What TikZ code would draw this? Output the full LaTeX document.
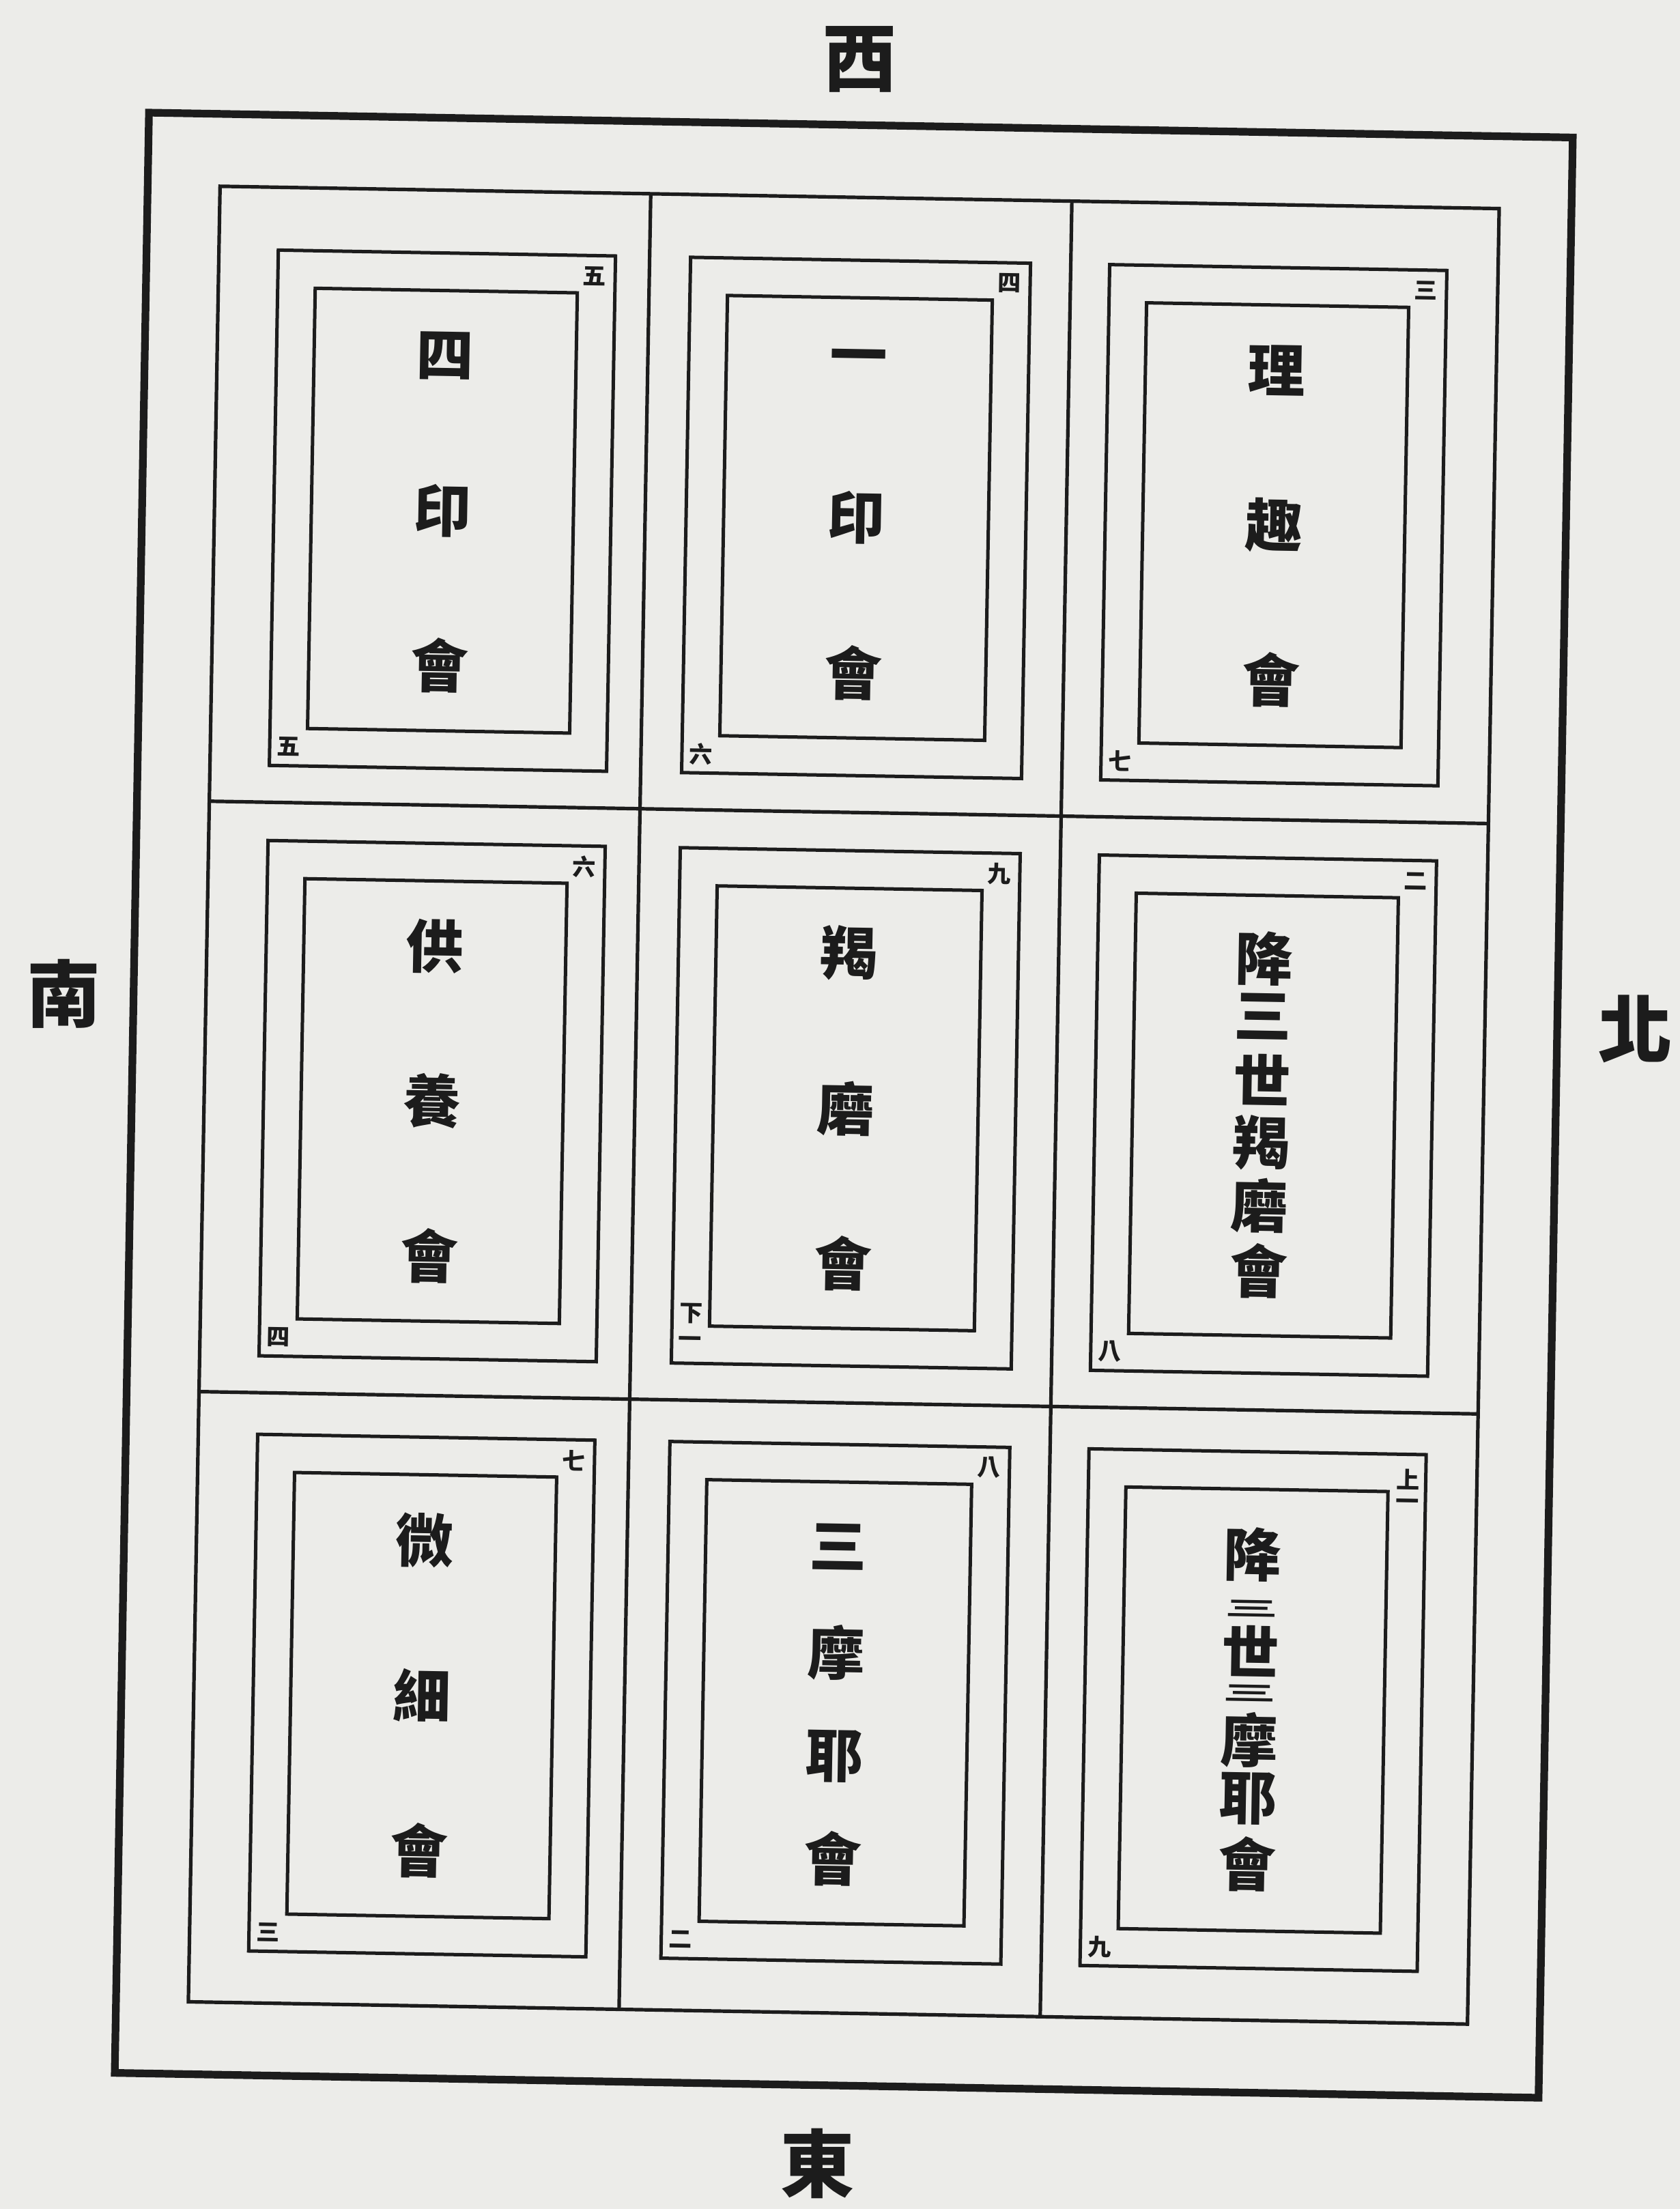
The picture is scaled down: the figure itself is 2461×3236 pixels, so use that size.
\documentclass[tikz,border=0pt]{standalone}
\usepackage{fontspec}
\newfontfamily\cjk{Noto Sans CJK TC}
\definecolor{paper}{RGB}{236,236,233}
\definecolor{ink}{RGB}{28,28,28}
\tikzset{
  outerline/.style={draw=ink, line width=2.8pt, line join=miter},
  gridline/.style={draw=ink, line width=1.3pt},
  frameline/.style={draw=ink, line width=1.25pt},
  big/.style={inner sep=0pt, text=ink, font=\cjk\bfseries\fontsize{21}{21}\selectfont},
  flat/.style={inner sep=0pt, text=ink, xscale=2.6, font=\cjk\bfseries\fontsize{7.5}{7.5}\selectfont},
  small/.style={inner sep=0pt, text=ink, font=\cjk\bfseries\fontsize{8.5}{8.5}\selectfont},
  compass/.style={inner sep=0pt, text=ink, font=\cjk\bfseries\fontsize{27}{27}\selectfont}
}
\newcommand{\cellbox}[4]{%
  \draw[frameline] (#1,#3) rectangle (#2,#4);
  \draw[frameline] ({#1+55},{#3+55}) rectangle ({#2-55},{#4-55});
}
\begin{document}
\begin{tikzpicture}[x=0.25pt,y=-0.25pt]
\path[fill=paper, use as bounding box] (0,0) rectangle (2461,3236);
% compass
\node[compass] (west)  at (1259,87)   {西};
\node[compass] (east)  at (1197,3169) {東};
\node[compass] (south) at (93,1456)   {南};
\node[compass] (north) at (2395,1507) {北};
\begin{scope}[shift={(1236,1619)}, rotate=-1, transform shape]
  \draw[outerline] (-1043,-1436) rectangle (1043,1436);
  \draw[gridline] (-937,-1330) rectangle (937,1330);
  \draw[gridline] (-306,-1330) -- (-306,1330);
  \draw[gridline] (311,-1330) -- (311,1330);
  \draw[gridline] (-937,-429) -- (937,-429);
  \draw[gridline] (-937,436) -- (937,436);
  % cells: columns [-850,-356] [-246,252] [368,862]; rows [-1238,-483] [-373,382] [497,1254]
  \cellbox{-850}{-356}{-1238}{-483}
  \cellbox{-246}{252}{-1238}{-483}
  \cellbox{368}{862}{-1238}{-483}
  \cellbox{-850}{-356}{-373}{382}
  \cellbox{-246}{252}{-373}{382}
  \cellbox{368}{862}{-373}{382}
  \cellbox{-850}{-356}{497}{1254}
  \cellbox{-246}{252}{497}{1254}
  \cellbox{368}{862}{497}{1254}
  % corner numbers
  \node[small] (n11a) at (-386,-1208) {五};
  \node[small] (n11b) at (-822,-511)  {五};
  \node[small] (n12a) at (222,-1208)  {四};
  \node[small] (n12b) at (-218,-511)  {六};
  \node[small] (n13a) at (832,-1208)  {三};
  \node[small] (n13b) at (396,-511)   {七};
  \node[small] (n21a) at (-386,-343)  {六};
  \node[small] (n21b) at (-822,354)   {四};
  \node[small] (n22a) at (222,-343)   {九};
  \node[small] (n22b) at (-218,309)   {下};
  \node[small] (n22c) at (-219,351)   {一};
  \node[small] (n23a) at (832,-343)   {二};
  \node[small] (n23b) at (396,354)    {八};
  \node[small] (n31a) at (-386,527)   {七};
  \node[small] (n31b) at (-822,1226)  {三};
  \node[small] (n32a) at (222,527)    {八};
  \node[small] (n32b) at (-218,1226)  {二};
  \node[small] (n33a) at (836,534)    {上};
  \node[small] (n33c) at (836,570)    {一};
  \node[small] (n33b) at (396,1226)   {九};
  % top row
  \node[big] (t11a) at (-603,-1087.5) {四};
  \node[big] (t11b) at (-603,-860.5)  {印};
  \node[big] (t11c) at (-603,-633.5)  {會};
  \node[big] (t12a) at (3,-1087.5) {一};
  \node[big] (t12b) at (3,-860.5)  {印};
  \node[big] (t12c) at (3,-633.5)  {會};
  \node[big] (t13a) at (615,-1087.5) {理};
  \node[big] (t13b) at (615,-860.5)  {趣};
  \node[big] (t13c) at (615,-633.5)  {會};
  % middle row
  \node[big] (t21a) at (-603,-222.5) {供};
  \node[big] (t21b) at (-603,4.5)    {養};
  \node[big] (t21c) at (-603,231.5)  {會};
  \node[big] (t22a) at (3,-222.5) {羯};
  \node[big] (t22b) at (3,4.5)    {磨};
  \node[big] (t22c) at (3,231.5)  {會};
  \node[big] (t23a) at (612,-225.5) {降};
  \node[big] (t23b) at (612,-140.5) {三};
  \node[big] (t23c) at (612,-47.5)  {世};
  \node[big] (t23d) at (612,44.5)   {羯};
  \node[big] (t23e) at (612,136.5)  {磨};
  \node[big] (t23f) at (612,232.5)  {會};
  % bottom row
  \node[big] (t31a) at (-603,648.5)  {微};
  \node[big] (t31b) at (-603,875.5)  {細};
  \node[big] (t31c) at (-603,1102.5) {會};
  \node[big] (t32a) at (3,647.5)  {三};
  \node[big] (t32b) at (3,801.5)  {摩};
  \node[big] (t32c) at (3,953.5)  {耶};
  \node[big] (t32d) at (3,1103.5) {會};
  \node[big]  (t33a) at (610,647.5)  {降};
  \node[flat] (t33b) at (610,727)    {三};
  \node[big]  (t33c) at (610,789)    {世};
  \node[flat] (t33d) at (610,851)    {三};
  \node[big]  (t33e) at (610,919)    {摩};
  \node[big]  (t33f) at (610,1005.5) {耶};
  \node[big]  (t33g) at (610,1101.5) {會};
\end{scope}
\end{tikzpicture}
\end{document}
